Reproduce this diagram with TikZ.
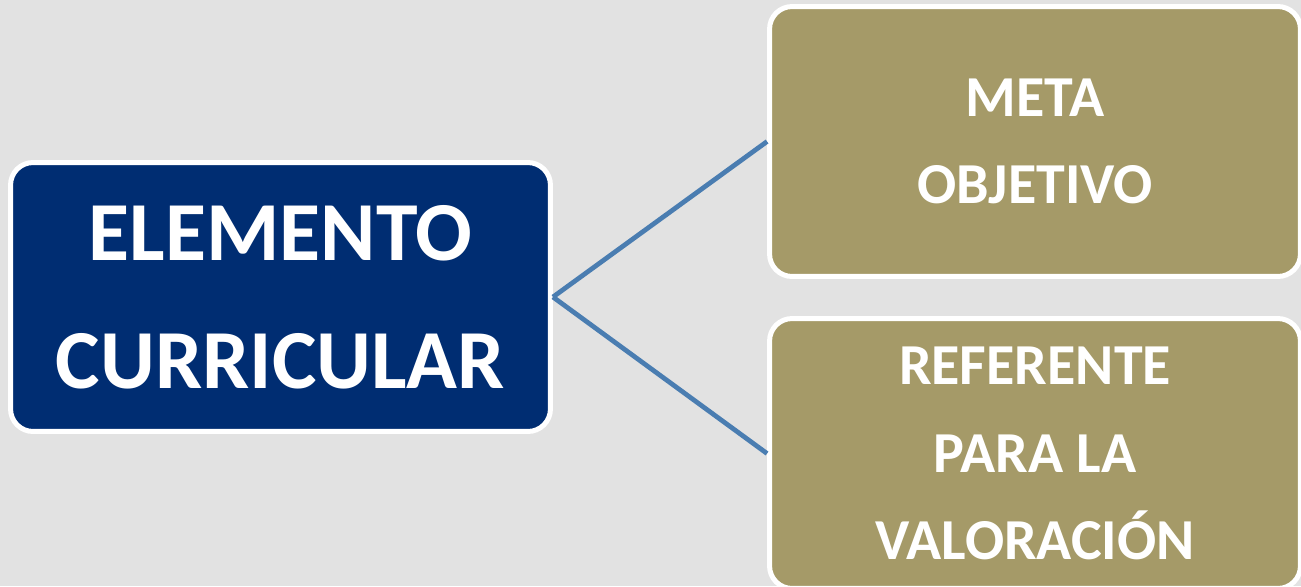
\documentclass[tikz,border=0pt]{standalone}
\usepackage{fontspec}
\setmainfont{Carlito}
\definecolor{bgGray}{HTML}{E2E2E2}
\definecolor{elemBlue}{HTML}{002D72}
\definecolor{metaOlive}{HTML}{A59A68}
\definecolor{linkBlue}{HTML}{4A7DB1}
\tikzset{
  box/.style={draw=white, line width=2.85pt, rounded corners=0.45cm, inner sep=0pt, align=center, text=white},
  bigtext/.style={font=\fontsize{47.8}{72.8}\selectfont\bfseries},
  smalltext/.style={font=\fontsize{33}{49.8}\selectfont\bfseries},
  link/.style={draw=linkBlue, line width=2.7pt}
}

\begin{document}
\begin{tikzpicture}[x=0.02cm,y=-0.02cm]

        \fill [bgGray] (0,0) rectangle (1301,586);
        \useasboundingbox (0,0) rectangle (1301,586);
        \clip (0,0) rectangle (1301,586);

        \node [box, fill=elemBlue, bigtext, minimum width=10.8cm, minimum height=5.38cm] (elem) at (280.5,297) {ELEMENTO\\CURRICULAR};

        \node [box, fill=metaOlive, smalltext, minimum width=10.62cm, minimum height=5.4cm] (meta) at (1035,141.5) {META\\OBJETIVO};
        \node [box, fill=metaOlive, smalltext, minimum width=10.62cm, minimum height=5.4cm] (refe) at (1035,453.5) {REFERENTE\\PARA LA\\VALORACIÓN};

        \draw [link] (elem.east) -- (meta.west);
        \draw [link] (elem.east) -- (refe.west);

\end{tikzpicture}
\end{document}
